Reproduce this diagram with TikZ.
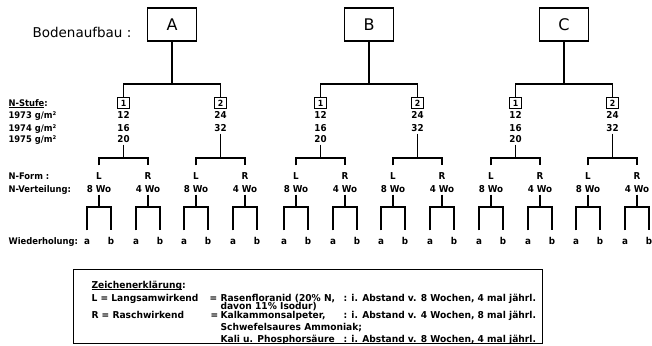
\documentclass[tikz,border=0pt]{standalone}
\usepackage{fontspec}
\setmainfont{DejaVu Sans}
\newfontfamily\labfont{DejaVu Sans}[FakeStretch=0.92]
\newfontfamily\legfont{DejaVu Sans}[FakeStretch=0.96]
\newcommand\myul[1]{\setbox0\hbox{#1}\rlap{\rule[-1.6pt]{\wd0}{0.8pt}}\box0}
\begin{document}
\begin{tikzpicture}[x=1pt,y=-1pt,line width=1.1pt,
  bigbox/.style={draw,line width=1.2pt,minimum width=49pt,minimum height=33pt,inner sep=0pt,font=\fontsize{16}{16}\selectfont},
  numbox/.style={draw,line width=1pt,minimum width=12pt,minimum height=11pt,inner sep=0pt,font=\labfont\bfseries\fontsize{8.5}{8.5}\selectfont},
  lab/.style={inner sep=1.5pt,text height=7pt,text depth=0pt,font=\labfont\bfseries\fontsize{9.5}{10}\selectfont},
  leftlab/.style={lab,anchor=west,inner sep=0pt,font=\labfont\bfseries\fontsize{9.1}{10}\selectfont},
  leg/.style={anchor=base west,inner sep=0pt,font=\legfont\bfseries\fontsize{9.5}{10}\selectfont},
  dropA/.style={shorten <=5pt,shorten >=5pt},
  dropB/.style={shorten <=5pt,shorten >=5pt}]
\useasboundingbox (0,0) rectangle (652,345);

\node[anchor=west,inner sep=0pt,font=\fontsize{13.5}{14}\selectfont] (title) at (32,32) {Bodenaufbau :};

\node[leftlab] (lstufe) at (8,103) {\myul{N-Stufe}:};
\node[leftlab] (l73) at (8,115) {1973 g/m²};
\node[leftlab] (l74) at (8,128) {1974 g/m²};
\node[leftlab] (l75) at (8,139) {1975 g/m²};
\node[leftlab] (lform) at (8,176) {N-Form :};
\node[leftlab] (lvert) at (8,189) {N-Verteilung:};
\node[leftlab] (lwied) at (8,241) {Wiederholung:};

\foreach \T/\cx in {A/172,B/369,C/564}{
  \node[bigbox] (\T) at (\cx,24.5) {\T};
  \coordinate (\T-j) at (\cx,84);
  \node[numbox] (\T1) at (\cx-48.5,103) {1};
  \node[numbox] (\T2) at (\cx+48.5,103) {2};
  \draw (\T.south) -- (\T-j);
  \draw (\T1.north) |- (\T-j) -| (\T2.north);
  \node[lab] (\T1a) at (\cx-48.5,115) {12};
  \node[lab] (\T1b) at (\cx-48.5,128) {16};
  \node[lab] (\T1c) at (\cx-48.5,139) {20};
  \node[lab] (\T2a) at (\cx+48.5,115) {24};
  \node[lab] (\T2b) at (\cx+48.5,128) {32};
  \coordinate (\T1-j) at (\cx-48.5,158);
  \coordinate (\T2-j) at (\cx+48.5,158);
  \draw (\T1c.south) -- (\T1-j);
  \draw (\T2b.south) -- (\T2-j);
  \foreach \k in {1,2}{
    \pgfmathsetmacro\xk{\cx+(\k-1.5)*97}
    \foreach \f/\s/\w in {L/-1/8,R/1/4}{
      \node[lab] (\T\k\f) at (\xk+\s*24.5,176) {\f};
      \node[lab] (\T\k\f w) at (\xk+\s*24.5,189) {\w\ Wo};
      \coordinate (\T\k\f-j) at (\xk+\s*24.5,207);
      \node[lab] (\T\k\f a) at (\xk+\s*24.5-12,241) {a};
      \node[lab] (\T\k\f b) at (\xk+\s*24.5+12,241) {b};
      \draw (\T\k\f w.south) -- (\T\k\f-j);
      \draw[dropB] (\T\k\f a.north) |- (\T\k\f-j) -| (\T\k\f b.north);
    }
    \draw[dropA] (\T\k L.north) |- (\T\k-j) -| (\T\k R.north);
  }
}

\node[draw,line width=1pt,minimum width=469pt,minimum height=74.5pt,inner sep=0pt] (legend) at (307.5,306.5) {};
\node[leg] (z) at (91,288) {\myul{Zeichenerklärung}:};
\node[leg] (lL) at (91,301) {L = Langsamwirkend};
\node[leg] (eqL) at (209,301) {=};
\node[leg] (rasen) at (220,301) {Rasenfloranid (20\% N,};
\node[leg] (davon) at (220,309) {davon 11\% Isodur)};
\node[leg] (abL) at (343,301) {: i. Abstand v. 8 Wochen, 4 mal jährl.};
\node[leg] (lR) at (91,318) {R = Raschwirkend};
\node[leg] (eqR) at (210,318) {=};
\node[leg] (kalk) at (220,318) {Kalkammonsalpeter,};
\node[leg] (abR) at (343,318) {: i. Abstand v. 4 Wochen, 8 mal jährl.};
\node[leg] (schw) at (220,330) {Schwefelsaures Ammoniak;};
\node[leg] (kali) at (220,342) {Kali u. Phosphorsäure};
\node[leg] (abK) at (343,342) {: i. Abstand v. 8 Wochen, 4 mal jährl.};
\end{tikzpicture}
\end{document}
